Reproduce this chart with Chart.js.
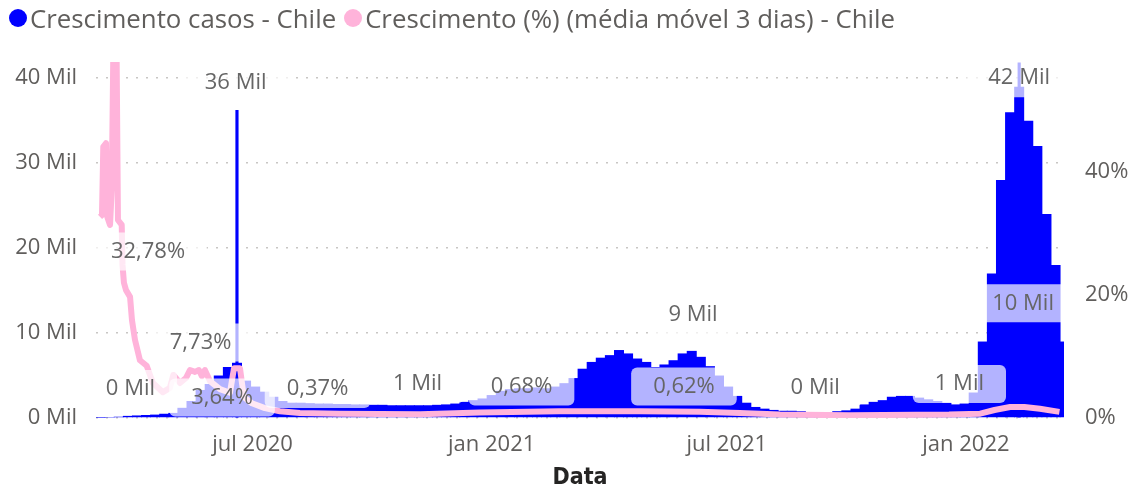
<!DOCTYPE html>
<html>
<head>
<meta charset="utf-8">
<script src="https://cdn.jsdelivr.net/npm/chart.js@4.4.1/dist/chart.umd.min.js"></script>
<style>
  body { margin: 0; background: #fff; }
  #wrap { position: relative; width: 1132px; height: 495px; }
  canvas { position: absolute; left: 0; top: 0; }
  #legend { position: absolute; left: 9px; top: 0px; display: flex; align-items: center;
            font-family: 'Segoe UI', 'Open Sans', sans-serif; font-size: 25.8px; color: #605E5C; white-space: nowrap; }
  .item { display: flex; align-items: center; margin-right: 8px; }
  .dot { width: 18px; height: 18px; border-radius: 50%; margin-right: 3px; }
</style>
</head>
<body>
<div id="wrap">
  <canvas id="chart" width="1132" height="495"></canvas>
  <div id="legend"></div>
</div>
<script>
// casos diários (Mil), um valor por semana a partir de 03/03/2020
const casos2020 = [0.02, 0.05, 0.15, 0.25, 0.3, 0.35, 0.4, 0.5, 0.6,
  1.2, 2.0, 3.3, 4.0, 5.0, 6.0, 6.5, 4.4, 3.7, 3.1, 2.5, 2.0, 1.8,
  1.8, 1.75, 1.7, 1.7, 1.65, 1.65, 1.6, 1.6, 1.55, 1.55, 1.5, 1.5, 1.5, 1.5, 1.5, 1.55, 1.6,
  1.7, 1.9, 2.1, 2.3, 2.7];
const casos2021 = [3.2, 3.4, 3.5, 3.5, 3.6, 3.5, 3.7, 4.1, 4.7,
  5.8, 6.6, 7.1, 7.4, 8.0, 7.6, 7.0, 6.6, 6.0, 6.3, 6.8, 7.6, 7.9, 7.2, 6.1, 5.0, 3.7, 2.6, 1.8, 1.3, 1.1, 0.95, 0.85,
  0.85, 0.8, 0.65, 0.6, 0.6, 0.8, 0.9, 1.1, 1.6, 1.9, 2.1, 2.5, 2.6, 2.6, 2.4, 2.2, 2.0, 1.8, 1.6, 1.7];
const casos2022 = [3.0, 9.0, 17, 28, 36, 39, 35, 32, 24, 18, 9];

// dias isolados com pico (dia contado desde 03/03/2020)
const diasPico = [108, 710];
const valoresPico = [36.2, 41.8];

// crescimento (%) média móvel 3 dias
const diasCrescimento = [2.6, 4.1, 5.1, 7.2, 8.2, 10.3, 11.6, 12.8, 15.4, 16.4, 19.3, 19.9, 21, 22.6, 25.7, 27.2, 29.5, 33.3,
  38.5, 43.3, 51, 56.4, 59, 64.1, 68.7, 71.8, 75.7, 78.7, 81, 83.3, 87.2, 94.9, 102.6, 105.7, 110.3, 113.3, 119.5,
  129.5, 141, 156.4, 187, 249, 295, 356, 418, 464, 495, 526, 580, 656, 680, 691, 703, 714, 726, 741];
const crescimentoPct = [32.7, 33.0, 44.1, 44.7, 32.7, 31.4, 37.1, 59, 58.2, 32.2, 31.4, 24.9, 22.0, 20.8, 19.7, 15.9, 12.7, 9.4,
  8.5, 5.7, 4.2, 4.9, 7.0, 5.7, 6.5, 7.8, 7.5, 7.8, 6.8, 7.8, 6.0, 4.7, 4.1, 8.1, 8.1, 3.4, 2.4,
  1.6, 1.1, 0.8, 0.7, 0.6, 0.9, 1.1, 1.1, 1.0, 0.8, 0.55, 0.45, 0.55, 0.7, 1.3, 1.8, 1.8, 1.5, 1.0];

const diasRotulosX = [120, 304, 485, 669];
const rotulosX = ['jul 2020', 'jan 2021', 'jul 2021', 'jan 2022'];
const ticksCasos = [0, 10, 20, 30, 40];
const ticksPct = [0, 20, 40];

// rótulos de dados: texto, dia, altura (Mil)
const rotulos = [
  ['36 Mil', 107, 39.5], ['32,78%', 39.5, 19.6], ['7,73%', 80, 8.9], ['0 Mil', 26, 3.4],
  ['3,64%', 96.5, 2.4], ['0,37%', 170, 3.4], ['1 Mil', 247, 4.0], ['0,68%', 327, 3.7],
  ['9 Mil', 459, 12.1], ['0,62%', 452, 3.7], ['0 Mil', 553, 3.6], ['1 Mil', 664, 4.0],
  ['10 Mil', 713, 13.5], ['42 Mil', 710, 40.0]
];

const casos = casos2020.concat(casos2021, casos2022);
const fonte = "'Segoe UI', 'Open Sans', sans-serif";
const cinza = '#605E5C';

document.getElementById('legend').innerHTML =
  '<div class="item"><span class="dot" style="background:#0000FF"></span>Crescimento casos - Chile</div>' +
  '<div class="item"><span class="dot" style="background:#FFB3DA"></span>Crescimento (%) (média móvel 3 dias) - Chile</div>';

const rotulosPlugin = {
  id: 'rotulos',
  afterDatasetsDraw(chart) {
    const ctx = chart.ctx;
    const sx = chart.scales.x, sy = chart.scales.y;
    ctx.save();
    ctx.font = '22px ' + fonte;
    const caixas = rotulos.map(r => {
      const w = ctx.measureText(r[0]).width;
      return { t: r[0], x: sx.getPixelForValue(r[1]), y: sy.getPixelForValue(r[2]), w: w };
    });
    ctx.fillStyle = 'rgba(255,255,255,0.7)';
    caixas.forEach(c => {
      ctx.beginPath();
      ctx.roundRect(c.x - c.w / 2 - 22, c.y - 19, c.w + 44, 38, 6);
      ctx.fill();
    });
    ctx.fillStyle = '#666666';
    ctx.textAlign = 'center';
    ctx.textBaseline = 'middle';
    caixas.forEach(c => ctx.fillText(c.t, c.x, c.y));
    ctx.restore();
  }
};

new Chart(document.getElementById('chart'), {
  type: 'bar',
  data: {
    datasets: [
      {
        type: 'line',
        label: 'Crescimento (%) (média móvel 3 dias) - Chile',
        data: diasCrescimento.map((d, i) => ({ x: d, y: crescimentoPct[i] })),
        yAxisID: 'y2',
        borderColor: '#FFB3DA',
        borderWidth: 6,
        pointRadius: 0,
        tension: 0,
        borderJoinStyle: 'round',
        order: 0
      },
      {
        label: 'Crescimento casos - Chile',
        data: casos.map((v, i) => ({ x: 7 * i + 3, y: v })),
        yAxisID: 'y',
        backgroundColor: '#0000FF',
        barPercentage: 1.1,
        categoryPercentage: 1,
        grouped: false,
        order: 1
      },
      {
        label: 'pico',
        data: diasPico.map((d, i) => ({ x: d, y: valoresPico[i] })),
        yAxisID: 'y',
        backgroundColor: '#0000FF',
        barThickness: 2.5,
        grouped: false,
        order: 1
      }
    ]
  },
  options: {
    responsive: false,
    animation: false,
    layout: { padding: { top: 62, left: 0, right: 0, bottom: 0 } },
    plugins: { legend: { display: false }, tooltip: { enabled: false } },
    scales: {
      x: {
        type: 'linear',
        min: -0.5,
        max: 744.5,
        offset: false,
        grid: { display: false },
        border: { display: false },
        afterBuildTicks: s => { s.ticks = diasRotulosX.map(v => ({ value: v })); },
        afterFit: s => { s.height = 77; },
        ticks: {
          autoSkip: false,
          maxRotation: 0,
          padding: 6,
          color: cinza,
          font: { family: fonte, size: 22 },
          callback: v => rotulosX[diasRotulosX.indexOf(v)]
        },
        title: {
          display: true,
          text: 'Data',
          color: '#252423',
          padding: { top: 0, bottom: 3 },
          font: { family: "'DejaVu Sans Condensed', 'DejaVu Sans'", size: 23, weight: 'bold' }
        }
      },
      y: {
        position: 'left',
        min: 0,
        max: 41.9,
        afterBuildTicks: s => { s.ticks = ticksCasos.map(v => ({ value: v })); },
        afterFit: s => { s.width = 96; },
        grid: { color: '#C8C6C4', lineWidth: 1.5, drawTicks: false },
        border: { display: false, dash: [2, 8] },
        ticks: {
          padding: 19,
          color: cinza,
          font: { family: fonte, size: 22 },
          callback: v => v + ' Mil'
        }
      },
      y2: {
        position: 'right',
        min: 0,
        max: 57.9,
        afterBuildTicks: s => { s.ticks = ticksPct.map(v => ({ value: v })); },
        afterFit: s => { s.width = 68; },
        grid: { display: false, drawTicks: false },
        border: { display: false },
        ticks: {
          padding: 21,
          color: cinza,
          font: { family: fonte, size: 22 },
          callback: v => v + '%'
        }
      }
    }
  },
  plugins: [rotulosPlugin]
});
</script>
</body>
</html>
